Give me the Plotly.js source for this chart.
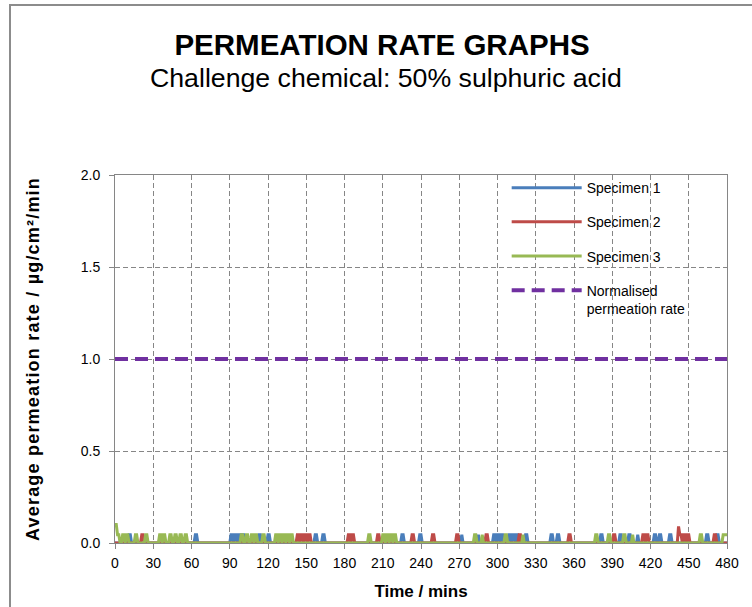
<!DOCTYPE html>
<html>
<head>
<meta charset="utf-8">
<script src="https://cdn.plot.ly/plotly-3.0.1.min.js"></script>
<style>
  html, body { margin: 0; padding: 0; background: #fff; }
  #wrap { position: relative; width: 752px; height: 607px; overflow: hidden; }
  #chart { position: absolute; left: 0; top: 0; width: 752px; height: 607px; }
  #frame { position: absolute; left: 9px; top: 4px; width: 800px; height: 700px;
           border-left: 2px solid #8c8c8c; border-top: 2px solid #8c8c8c; pointer-events: none; }
  .ytitle { letter-spacing: 1.2px; }
</style>
</head>
<body>
<div id="wrap">
  <div id="chart"></div>
  <div id="frame"></div>
</div>
<script>
// Permeation readings, [time in minutes, rate in µg/cm²/min]; unlisted minutes read zero.
const specimen1 = [
  [0,0],[10,0],[11,0.045],[12,0.045],[13,0],
  [62,0],[63,0.045],[64,0.045],[65,0],
  [90,0],[91,0.045],[92,0.045],[93,0],[94,0.045],[95,0.045],[96,0],[97,0.045],[98,0.045],[99,0],[100,0.045],[101,0.045],[102,0],
  [112,0],[113,0.045],[114,0.045],[115,0],
  [119,0],[120,0.045],[121,0.045],[122,0],
  [156,0],[157,0.045],[158,0.045],[159,0],
  [162,0],[163,0.045],[164,0.045],[165,0],
  [224,0],[225,0.045],[226,0.045],[227,0],
  [238,0],[239,0.045],[240,0.045],[241,0],
  [271,0],[272,0.045],[273,0],
  [284,0],[285,0.045],[286,0],
  [296,0],[297,0.045],[298,0.045],[299,0],[300,0.045],[301,0.045],[302,0],[303,0.045],[304,0.045],[305,0],
  [308,0],[309,0.045],[310,0.045],[311,0],[312,0.045],[313,0.045],[314,0],[315,0.045],[316,0.045],[317,0],
  [321,0],[322,0.045],[323,0.045],[324,0],
  [341,0],[342,0.045],[343,0.045],[344,0],
  [346,0],[347,0.045],[348,0.045],[349,0],
  [380,0],[381,0.045],[382,0.045],[383,0],
  [395,0],[396,0.045],[397,0.045],[398,0],
  [402,0],[403,0.045],[404,0.045],[405,0],
  [409,0],[410,0.045],[411,0],
  [422,0],[423,0.045],[424,0.045],[425,0],[426,0],[427,0.045],[428,0.045],[429,0],
  [434,0],[435,0.045],[436,0.045],[437,0],
  [447,0],[448,0.045],[449,0],
  [463,0],[464,0.045],[465,0.045],[466,0],
  [471,0],[472,0.045],[473,0.045],[474,0],
  [480,0]
];

const specimen2 = [
  [0,0],[20,0],[21,0.045],[22,0.045],[23,0],
  [142,0],[143,0.045],[144,0.045],[145,0],[146,0.045],[147,0.045],[148,0],[149,0.045],[150,0.045],[151,0],[152,0.045],[153,0.045],[154,0],
  [182,0],[183,0.045],[184,0.045],[185,0],[186,0.045],[187,0.045],[188,0],
  [205,0],[206,0.045],[207,0.045],[208,0],
  [232,0],[233,0.045],[234,0.045],[235,0],
  [248,0],[249,0.045],[250,0.045],[251,0],
  [267,0],[268,0.045],[269,0.045],[270,0],
  [290,0],[291,0.045],[292,0.045],[293,0],
  [316,0],[317,0.045],[318,0.045],[319,0],
  [355,0],[356,0.045],[357,0.045],[358,0],
  [390,0],[391,0.045],[392,0.045],[393,0],
  [413,0],[414,0.045],[415,0.045],[416,0],[417,0.045],[418,0.045],[419,0],
  [441,0],[442,0.09],[443,0.045],[444,0.045],[445,0],[446,0.045],[447,0.045],[448,0],[449,0.045],[450,0.045],[451,0],
  [469,0],[470,0.045],[471,0.045],[472,0],
  [480,0]
];

const specimen3 = [
  [0,0.1],[1,0.1],[2,0.045],[3,0.045],[4,0],
  [5,0],[6,0.045],[7,0.045],[8,0],[9,0.045],[10,0.045],[11,0],
  [15,0],[16,0.045],[17,0.045],[18,0],
  [23,0],[24,0.045],[25,0.045],[26,0],
  [34,0],[35,0.045],[36,0.045],[37,0],[38,0.045],[39,0.045],[40,0],
  [42,0],[43,0.045],[44,0.045],[45,0],
  [46,0],[47,0.045],[48,0.045],[49,0],
  [50,0],[51,0.045],[52,0.045],[53,0],
  [54,0],[55,0.045],[56,0.045],[57,0],
  [98,0],[99,0.045],[100,0.045],[101,0],
  [102,0],[103,0.045],[104,0.045],[105,0],
  [106,0],[107,0.045],[108,0.045],[109,0],[110,0.045],[111,0.045],[112,0],
  [115,0],[116,0.045],[117,0.045],[118,0],
  [125,0],[126,0.045],[127,0.045],[128,0],[129,0.045],[130,0.045],[131,0],[132,0.045],[133,0.045],[134,0],[135,0.045],[136,0.045],[137,0],[138,0.045],[139,0.045],[140,0],
  [198,0],[199,0.045],[200,0.045],[201,0],
  [209,0],[210,0.045],[211,0.045],[212,0],[213,0.045],[214,0.045],[215,0],[216,0.045],[217,0.045],[218,0],[219,0.045],[220,0.045],[221,0],
  [281,0],[282,0.045],[283,0.045],[284,0],
  [287,0],[288,0.045],[289,0],
  [305,0],[306,0.045],[307,0.045],[308,0],
  [319,0],[320,0.045],[321,0],
  [376,0],[377,0.045],[378,0.045],[379,0],
  [386,0],[387,0.045],[388,0.045],[389,0],
  [398,0],[399,0.045],[400,0.045],[401,0],
  [405,0],[406,0.045],[407,0],
  [458,0],[459,0.045],[460,0.045],[461,0],
  [476,0],[477,0.045],[478,0.045],[479,0.045],[480,0.045]
];

// Reference level across the whole test
const normalisedTime = [0, 480];
const normalisedRate = [1.0, 1.0];

const xTicks = [0,30,60,90,120,150,180,210,240,270,300,330,360,390,420,450,480];
const yTicks = [0.0, 0.5, 1.0, 1.5, 2.0];

const FONT = '"Liberation Sans", Arial, sans-serif';
const AXIS_GREY = '#868686';

function seriesTrace(points, name, color, group) {
  return {
    x: points.map(p => p[0]),
    y: points.map(p => p[1]),
    name: name,
    legendgroup: group,
    type: 'scatter',
    mode: 'lines',
    line: { color: color, width: 3 },
    hoverinfo: 'skip'
  };
}

const traces = [
  seriesTrace(specimen1, 'Specimen 1', '#4a7ebb', 'a'),
  seriesTrace(specimen2, 'Specimen 2', '#be4b48', 'b'),
  seriesTrace(specimen3, 'Specimen 3', '#98b954', 'c'),
  {
    x: normalisedTime,
    y: normalisedRate,
    name: 'Normalised<br>permeation rate',
    legendgroup: 'd',
    type: 'scatter',
    mode: 'lines',
    line: { color: '#7030a0', width: 4, dash: '13px,7px' },
    hoverinfo: 'skip'
  }
];

const layout = {
  width: 752,
  height: 607,
  margin: { l: 115, r: 25, t: 175, b: 64 },
  paper_bgcolor: 'rgba(0,0,0,0)',
  plot_bgcolor: 'rgba(0,0,0,0)',
  font: { family: FONT, color: '#000', size: 14 },
  showlegend: true,
  title: {
    text: '<b>PERMEATION RATE GRAPHS</b>',
    font: { family: FONT, size: 29.5, color: '#000' },
    x: 0.508, xanchor: 'center',
    y: 0.943, yanchor: 'top', yref: 'container'
  },
  annotations: [{
    text: 'Challenge chemical: 50% sulphuric acid',
    xref: 'paper', yref: 'paper',
    x: 0.442, y: 1.263, xanchor: 'center', yanchor: 'middle',
    showarrow: false,
    font: { family: FONT, size: 26.7, color: '#000' }
  }],
  legend: {
    x: 0.64, y: 1.008, xanchor: 'left', yanchor: 'top',
    bgcolor: 'rgba(0,0,0,0)',
    font: { family: FONT, size: 14, color: '#000' },
    itemwidth: 70,
    tracegroupgap: 13,
    traceorder: 'grouped',
    valign: 'top'
  },
  xaxis: {
    range: [0, 480],
    tickvals: xTicks,
    ticktext: xTicks.map(String),
    showline: true, linecolor: AXIS_GREY, linewidth: 1, mirror: true,
    ticks: 'outside', ticklen: 5, tickcolor: AXIS_GREY,
    ticklabelstandoff: 2,
    showgrid: true, gridcolor: AXIS_GREY, gridwidth: 1, griddash: '5px,3px',
    zeroline: false,
    tickfont: { family: FONT, size: 14, color: '#000' },
    title: { text: '<b>Time / mins</b>', font: { family: FONT, size: 17, color: '#000' }, standoff: 15 },
    automargin: false
  },
  yaxis: {
    range: [0, 2],
    tickvals: yTicks,
    ticktext: yTicks.map(v => v.toFixed(1)),
    showline: true, linecolor: AXIS_GREY, linewidth: 1, mirror: true,
    ticks: 'outside', ticklen: 5, tickcolor: AXIS_GREY,
    ticklabelstandoff: 6,
    showgrid: true, gridcolor: AXIS_GREY, gridwidth: 1, griddash: '5px,3px',
    zeroline: false,
    tickfont: { family: FONT, size: 14, color: '#000' },
    title: { text: '<b>Average permeation rate / µg/cm²/min</b>', font: { family: FONT, size: 18, color: '#000' }, standoff: 36 },
    automargin: false
  }
};

Plotly.newPlot('chart', traces, layout, { staticPlot: true, displayModeBar: false });
</script>
</body>
</html>
